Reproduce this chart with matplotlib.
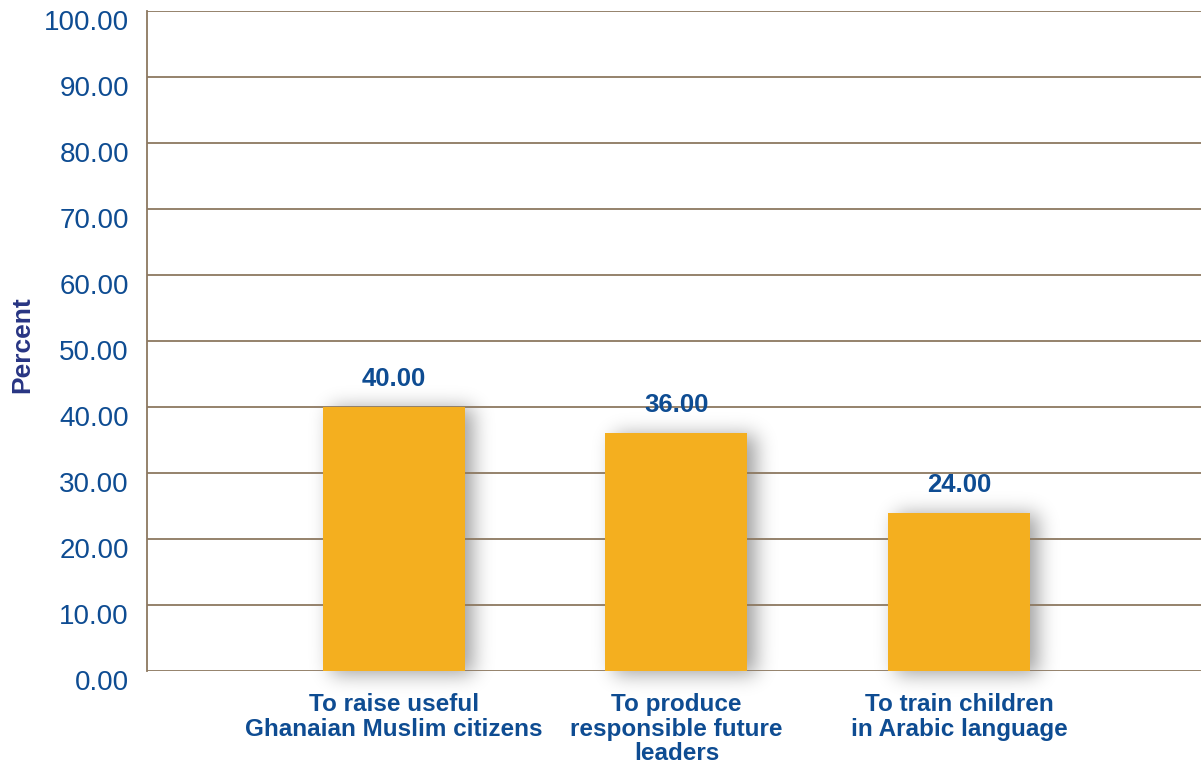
import numpy as np
import matplotlib.pyplot as plt
from matplotlib import transforms

# Reasons given (percent of respondents)
categories = ["To raise useful\nGhanaian Muslim citizens",
              "To produce\nresponsible future\nleaders",
              "To train children\nin Arabic language"]
values = [40.00, 36.00, 24.00]
yticks = np.arange(0, 101, 10)

bar_color = '#F4AF1F'
label_blue = '#0E4C92'
grid_color = '#8C7860'

plt.rcParams['font.family'] = ['Liberation Sans', 'DejaVu Sans']

W, H = 1201, 763
fig = plt.figure(figsize=(W / 100, H / 100), dpi=100, facecolor='white')
ax = fig.add_axes([147 / W, 92 / H, 1 - 147 / W, 660 / H])
ax.set_facecolor('none')

x = np.arange(len(categories))
width = 0.503
ax.set_xlim(-0.874, 2.857)
ax.set_ylim(0, 100)

bars = ax.bar(x, values, width=width, color=bar_color, zorder=3)

# soft drop shadow: blurred copy of the bars, shifted right, drawn under the axes
mask = np.zeros((H, W))
for b in bars:
    (x0, y0), (x1, y1) = ax.transData.transform([(b.get_x(), 0),
                                                 (b.get_x() + b.get_width(), b.get_height())])
    mask[int(y0) - 3:int(y1) - 1, int(x0) + 9:int(x1) + 9] = 1.0
sigma = 10
k = np.arange(-3 * sigma, 3 * sigma + 1)
kernel = np.exp(-k ** 2 / (2 * sigma ** 2))
kernel /= kernel.sum()
mask = np.apply_along_axis(lambda r: np.convolve(r, kernel, mode='same'), 1, mask)
mask = np.apply_along_axis(lambda c: np.convolve(c, kernel, mode='same'), 0, mask)
shadow = np.zeros((H, W, 4))
shadow[..., 3] = 0.38 * mask
fig.figimage(shadow, 0, 0, origin='lower', zorder=-1)

px_y = 100 / 660
for xi, v in zip(x, values):
    ax.text(xi, v + 28 * px_y, f'{v:.2f}', ha='center', va='center',
            fontsize=18.5, fontweight='bold', color=label_blue, zorder=4)

ax.set_yticks(yticks)
ax.set_yticklabels([f'{t:.2f}' for t in yticks])
ax.set_xticks(x)
ax.set_xticklabels(categories, fontsize=17.5, fontweight='bold',
                   color=label_blue, linespacing=1.08)
ax.tick_params(axis='y', length=0, pad=13, labelsize=20, labelcolor=label_blue)
ax.tick_params(axis='x', length=0, pad=16)

# y labels sit slightly below their gridlines
shift = transforms.ScaledTranslation(0, -9 / 100, fig.dpi_scale_trans)
for lab in ax.get_yticklabels():
    lab.set_transform(lab.get_transform() + shift)

ax.grid(axis='y', color=grid_color, linewidth=1.3, zorder=0)
ax.set_axisbelow(True)
for s in ['top', 'right', 'bottom']:
    ax.spines[s].set_visible(False)
ax.spines['left'].set_color(grid_color)
ax.spines['left'].set_linewidth(1.3)

fig.text(22 / W, 1 - 345 / H, 'Percent', rotation=90, ha='center', va='center',
         fontsize=19, fontweight='bold', color='#283583',
         family=['Liberation Sans Narrow', 'Liberation Sans', 'DejaVu Sans'])

fig.savefig('out.png', dpi=100)
